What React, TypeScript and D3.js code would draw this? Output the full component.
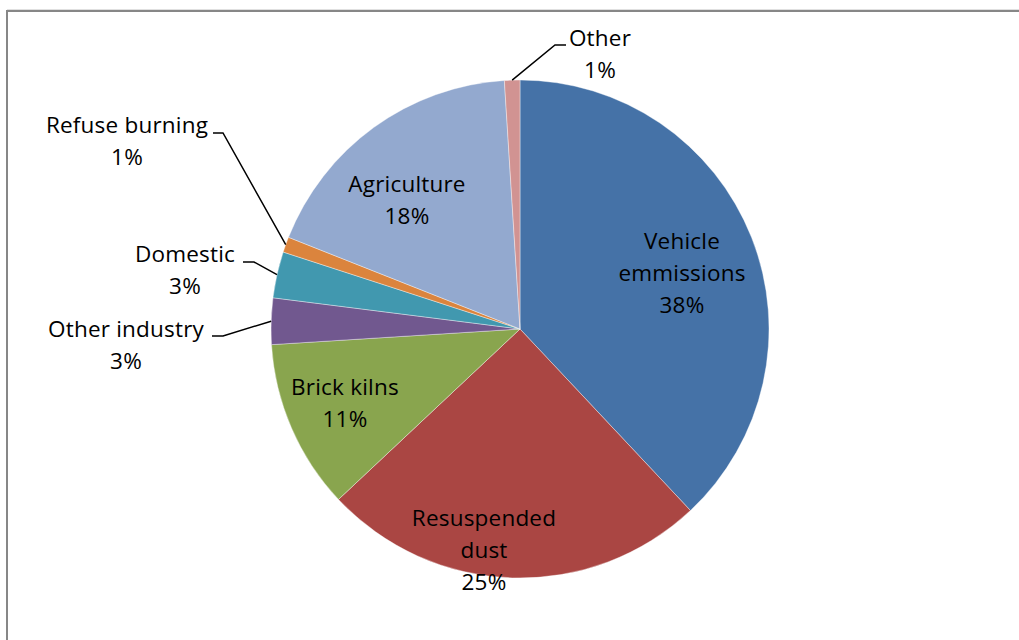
import React from "react";
import * as d3 from "d3";

const categories = [
  "Vehicle emmissions",
  "Resuspended dust",
  "Brick kilns",
  "Other industry",
  "Domestic",
  "Refuse burning",
  "Agriculture",
  "Other",
];
const values = [38, 25, 11, 3, 3, 1, 18, 1];
const labelLines = [
  ["Vehicle", "emmissions"],
  ["Resuspended", "dust"],
  ["Brick kilns"],
  ["Other industry"],
  ["Domestic"],
  ["Refuse burning"],
  ["Agriculture"],
  ["Other"],
];
const colors = [
  "#4572A7",
  "#AA4643",
  "#89A54E",
  "#71588F",
  "#4198AF",
  "#DB843D",
  "#93A9CF",
  "#D19392",
];

// label layout: center x, first baseline y
const labelPos: [number, number][] = [
  [682, 249],
  [484, 526],
  [345, 395],
  [126, 337],
  [185, 262],
  [127, 133],
  [407, 192],
  [600, 46],
];
// leader layout: [elbow, end] or null
const leaderPos: ([number, number][] | null)[] = [
  null,
  null,
  null,
  [[223, 336], [212, 336]],
  [[254, 262], [243, 262]],
  [[223, 133], [213, 133]],
  null,
  [[555, 45], [566, 45]],
];

const W = 1019;
const H = 640;
const cx = 520;
const cy = 329;
const R = 249;
const lineH = 32;

export default function App() {
  const pie = d3
    .pie<number>()
    .sort(null)
    .value((d) => d);
  const arcs = pie(values);
  const arc = d3.arc<d3.PieArcDatum<number>>().innerRadius(0).outerRadius(R);

  return (
    <svg
      width={W}
      height={H}
      style={{ position: "absolute", left: 0, top: 0, background: "#fff" }}
      fontFamily="'Open Sans', sans-serif"
      fontSize={22.5}
      letterSpacing={0.2}
    >
      <rect x={0} y={0} width={W} height={H} fill="#fff" />
      <line x1={7} y1={9.5} x2={W} y2={9.5} stroke="#e0e0e0" strokeWidth={1} />
      <rect x={7} y={11} width={W + 20} height={H + 20} fill="none" stroke="#878787" strokeWidth={2} />
      <g transform={`translate(${cx},${cy})`}>
        {arcs.map((a, i) => (
          <path key={categories[i]} d={arc(a) || ""} fill={colors[i]} stroke="#fff" strokeOpacity={0.5} strokeWidth={0.75} />
        ))}
      </g>
      {arcs.map((a, i) => {
        const lp = leaderPos[i];
        if (!lp) return null;
        const mid = (a.startAngle + a.endAngle) / 2;
        const px = cx + R * Math.sin(mid);
        const py = cy - R * Math.cos(mid);
        const pts = [[px, py], lp[0], lp[1]] as [number, number][];
        return (
          <path
            key={"l" + i}
            d={d3.line()(pts) || ""}
            fill="none"
            stroke="#000"
            strokeWidth={1.5}
          />
        );
      })}
      {arcs.map((a, i) => {
        const [x, y] = labelPos[i];
        const lines = [...labelLines[i], `${Math.round(values[i])}%`];
        return (
          <text key={"t" + i} x={x} y={y} textAnchor="middle" fill="#000">
            {lines.map((t, j) => (
              <tspan key={j} x={x} y={y + j * lineH}>
                {t}
              </tspan>
            ))}
          </text>
        );
      })}
    </svg>
  );
}
